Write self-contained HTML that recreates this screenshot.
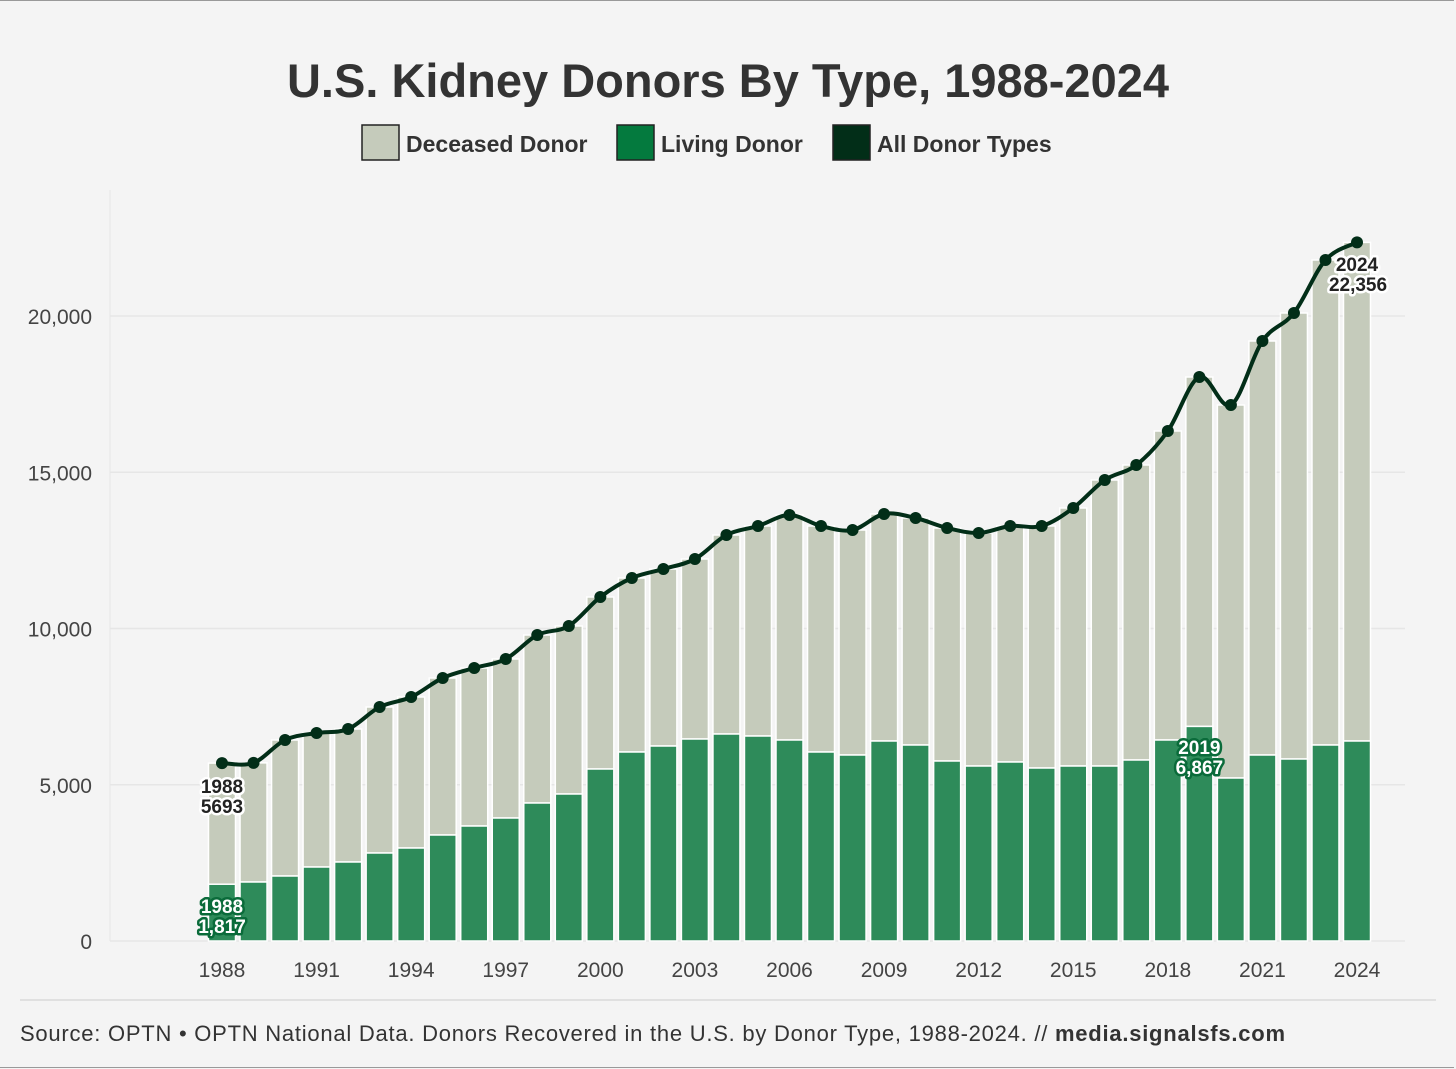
<!DOCTYPE html>
<html><head><meta charset="utf-8">
<style>
html,body{margin:0;padding:0;background:#f4f4f4;}
body{width:1456px;height:1069px;position:relative;overflow:hidden;font-family:"Liberation Sans",sans-serif;}
.frame{position:absolute;left:0;top:0;width:1454px;height:1066px;border:1px solid #999;border-left:none;border-right:none;}
</style></head>
<body>
<div class="frame"></div>
<svg id="chart" width="1456" height="1069" style="position:absolute;left:0;top:0">
<text x="728" y="97" text-anchor="middle" font-size="47" font-weight="bold" fill="#333">U.S. Kidney Donors By Type, 1988-2024</text>
<g>
<g><rect x="362" y="125" width="37" height="35" fill="#c5cbbb" stroke="#222" stroke-width="1.5"/><text x="406" y="152" font-size="23" font-weight="bold" fill="#333">Deceased Donor</text></g>
<g><rect x="617" y="125" width="37" height="35" fill="#047a3e" stroke="#222" stroke-width="1.5"/><text x="661" y="152" font-size="23" font-weight="bold" fill="#333">Living Donor</text></g>
<g><rect x="833" y="125" width="37" height="35" fill="#022e18" stroke="#222" stroke-width="1.5"/><text x="877" y="152" font-size="23" font-weight="bold" fill="#333">All Donor Types</text></g>
</g>
<g id="grid"></g><g id="bars"></g><g id="line"></g><g id="labels"></g>
<line x1="20" y1="1000" x2="1436" y2="1000" stroke="#ccc" stroke-width="1"/>
<text x="20" y="1041" font-size="22" fill="#333" textLength="1265" lengthAdjust="spacing">Source: OPTN • OPTN National Data. Donors Recovered in the U.S. by Donor Type, 1988-2024. // <tspan font-weight="bold">media.signalsfs.com</tspan></text>
</svg>
<script>
const years=[1988,1989,1990,1991,1992,1993,1994,1995,1996,1997,1998,1999,2000,2001,2002,2003,2004,2005,2006,2007,2008,2009,2010,2011,2012,2013,2014,2015,2016,2017,2018,2019,2020,2021,2022,2023,2024];
const totals=[5693,5700,6432,6656,6784,7488,7808,8416,8736,9024,9792,10080,11008,11616,11904,12224,12992,13280,13632,13280,13152,13664,13536,13216,13056,13280,13280,13856,14752,15232,16320,18048,17152,19200,20096,21792,22356];
const living=[1817,1888,2080,2368,2528,2816,2976,3392,3680,3936,4416,4704,5504,6048,6240,6464,6624,6560,6432,6048,5952,6400,6272,5760,5600,5728,5536,5600,5600,5792,6432,6867,5216,5952,5824,6272,6400];
const yTicks=[0,5000,10000,15000,20000];
const xTickYears=[1988,1991,1994,1997,2000,2003,2006,2009,2012,2015,2018,2021,2024];
const NS="http://www.w3.org/2000/svg";
const X=y=>222+(y-1988)*(1135/36);
const Y=v=>941-v*625/20000;
function mk(tag,attrs,parent){const e=document.createElementNS(NS,tag);for(const k in attrs)e.setAttribute(k,attrs[k]);parent.appendChild(e);return e;}
const grid=document.getElementById('grid'),bars=document.getElementById('bars'),line=document.getElementById('line'),labels=document.getElementById('labels');
mk('line',{x1:110,y1:190,x2:110,y2:941,stroke:'#e6e6e6'},grid);
yTicks.forEach(t=>{
  const l=mk('line',{x1:110,y1:Y(t),x2:1405,y2:Y(t),stroke:'#e6e6e6','stroke-width':1.5},grid);
  
  
  const tx=mk('text',{x:92,y:Y(t)+8,'text-anchor':'end','font-size':21,fill:'#444'},grid);
  tx.textContent=t.toLocaleString('en-US');
  
  
});
xTickYears.forEach(yr=>{
  const tx=mk('text',{x:X(yr),y:977,'text-anchor':'middle','font-size':21,fill:'#444'},grid);
  tx.textContent=yr;
  
  
});
const bw=27;
years.forEach((yr,i)=>{
  const x=X(yr)-bw/2;
  const d=mk('rect',{x:x,y:Y(totals[i]),width:bw,height:Y(living[i])-Y(totals[i]),fill:'#c5cbbb',stroke:'#fff','stroke-width':1.5},bars);
  
  
  const l=mk('rect',{x:x,y:Y(living[i]),width:bw,height:Y(0)-Y(living[i]),fill:'#2e8b5a',stroke:'#fff','stroke-width':1.5},bars);
  
  
});
const pts=years.map((yr,i)=>[X(yr),Y(totals[i])]);
let dstr='M'+pts[0][0]+','+pts[0][1];
for(let i=0;i<pts.length-1;i++){
  const p0=pts[Math.max(0,i-1)],p1=pts[i],p2=pts[i+1],p3=pts[Math.min(pts.length-1,i+2)];
  const c1=[p1[0]+(p2[0]-p0[0])/6,p1[1]+(p2[1]-p0[1])/6],c2=[p2[0]-(p3[0]-p1[0])/6,p2[1]-(p3[1]-p1[1])/6];
  dstr+=` C${c1[0]},${c1[1]} ${c2[0]},${c2[1]} ${p2[0]},${p2[1]}`;
}
const path=mk('path',{d:dstr,fill:'none',stroke:'#022e18','stroke-width':4},line);


pts.forEach((p,i)=>{
  const c=mk('circle',{cx:p[0],cy:p[1],r:6,fill:'#022e18'},line);
  
  
});
function lab(x,y,txt,color){
  const t=mk('text',{x:x,y:y,'text-anchor':'middle','font-size':19,'font-weight':'bold',fill:color,stroke:'#fff','stroke-width':5,'paint-order':'stroke','stroke-linejoin':'round'},labels);
  t.textContent=txt;
  
  
}
const fmt=v=>v.toLocaleString('en-US');
lab(X(1988),793,'1988','#222');lab(X(1988),813,String(totals[0]),'#222');
lab(X(1988),913,'1988','#fff');lab(X(1988),933,fmt(living[0]),'#fff');
const i19=years.indexOf(2019);
lab(X(2019),754,'2019','#fff');lab(X(2019),774,fmt(living[i19]),'#fff');
lab(X(2024),271,'2024','#222');lab(X(2024)+1,291,fmt(totals[totals.length-1]),'#222');
document.querySelectorAll('#labels text').forEach(t=>{if(t.getAttribute('fill')==='#fff'){t.setAttribute('stroke','#0a6b3a');}});
</script>
</body></html>
